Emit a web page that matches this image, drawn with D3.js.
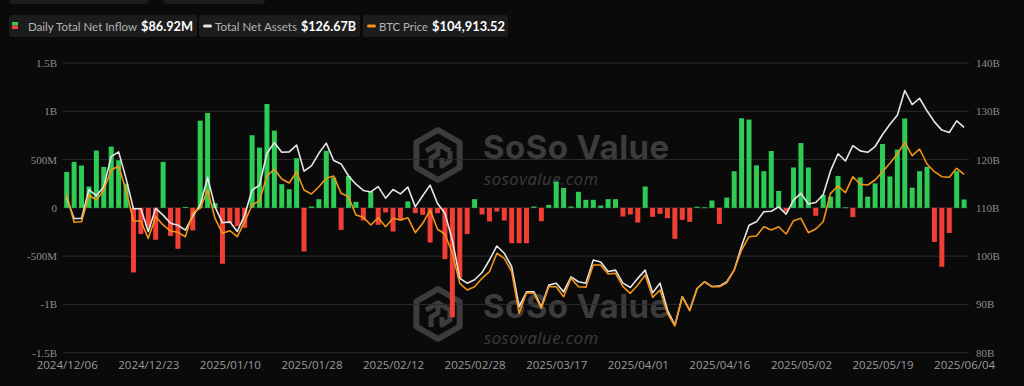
<!DOCTYPE html>
<html>
<head>
<meta charset="utf-8">
<script src="https://d3js.org/d3.v7.min.js"></script>
<style>
  body { margin: 0; background: #0a0a0a; }
  svg { display: block; }
  .legend-label { font-family: Lato, "Open Sans", sans-serif; font-size: 12px; fill: #b4b4b4; }
  .legend-value { font-family: Lato, "Open Sans", sans-serif; font-size: 14px; font-weight: bold; fill: #ffffff; }
  .yaxis text { font-family: "Liberation Serif", serif; font-size: 11px; fill: #8c8c8c; }
  .xaxis text { font-family: "Open Sans", "Noto Sans", sans-serif; font-size: 11.5px; fill: #9a9a9a; }
</style>
</head>
<body>
<script>
// trading days, 2024/12/06 .. 2025/06/04
const dates = [
  "2024/12/06","2024/12/09","2024/12/10","2024/12/11","2024/12/12","2024/12/13","2024/12/16","2024/12/17","2024/12/18","2024/12/19",
  "2024/12/20","2024/12/23","2024/12/24","2024/12/26","2024/12/27","2024/12/30","2024/12/31","2025/01/02","2025/01/03","2025/01/06",
  "2025/01/07","2025/01/08","2025/01/10","2025/01/13","2025/01/14","2025/01/15","2025/01/16","2025/01/17","2025/01/21","2025/01/22",
  "2025/01/23","2025/01/24","2025/01/27","2025/01/28","2025/01/29","2025/01/30","2025/01/31","2025/02/03","2025/02/04","2025/02/05",
  "2025/02/06","2025/02/07","2025/02/10","2025/02/11","2025/02/12","2025/02/13","2025/02/14","2025/02/18","2025/02/19","2025/02/20",
  "2025/02/21","2025/02/24","2025/02/25","2025/02/26","2025/02/27","2025/02/28","2025/03/03","2025/03/04","2025/03/05","2025/03/06",
  "2025/03/07","2025/03/10","2025/03/11","2025/03/12","2025/03/13","2025/03/14","2025/03/17","2025/03/18","2025/03/19","2025/03/20",
  "2025/03/21","2025/03/24","2025/03/25","2025/03/26","2025/03/27","2025/03/28","2025/03/31","2025/04/01","2025/04/02","2025/04/03",
  "2025/04/04","2025/04/07","2025/04/08","2025/04/09","2025/04/10","2025/04/11","2025/04/14","2025/04/15","2025/04/16","2025/04/17",
  "2025/04/21","2025/04/22","2025/04/23","2025/04/24","2025/04/25","2025/04/28","2025/04/29","2025/04/30","2025/05/01","2025/05/02",
  "2025/05/05","2025/05/06","2025/05/07","2025/05/08","2025/05/09","2025/05/12","2025/05/13","2025/05/14","2025/05/15","2025/05/16",
  "2025/05/19","2025/05/20","2025/05/21","2025/05/22","2025/05/23","2025/05/27","2025/05/28","2025/05/29","2025/05/30","2025/06/02",
  "2025/06/03","2025/06/04"
];

// daily total net inflow, $M
const inflow = [
  372, 476, 438, 221, 593, 424, 634, 493, 250, -669,
  -272, -200, -331, 476, -290, -424, 10, -234, 903, 983,
  48, -579, -160, -190, -207, 752, 624, 1076, 800, 245,
  193, 514, -452, 14, 90, 590, 314, -228, 331, 62,
  -131, 169, -176, -48, -245, -131, 66, -55, -72, -359,
  -55, -531, -1134, -728, -272, 90, -69, -141, -38, -131,
  -366, -366, -366, 14, -138, 31, 272, 207, 14, 166,
  83, 83, 24, 90, 90, -90, -69, -152, 221, -93,
  -62, -107, -321, -124, -145, 12, 5, 76, -166, 107,
  379, 928, 914, 440, 380, 589, 175, -38, 418, 671,
  418, -82, 134, 116, 329, 5, -96, 315, 116, 253,
  661, 325, 603, 925, 209, 380, 425, -353, -610, -260,
  380, 86.92
];

// total net assets, $B
const assets = [
  112.0, 107.8, 107.8, 113.8, 112.5, 114.4, 120.6, 121.6, 116.1, 109.8,
  109.8, 105.1, 109.9, 108.5, 106.8, 106.4, 105.4, 108.3, 110.6, 116.3,
  110.2, 106.9, 107.1, 105.1, 108.5, 113.7, 114.7, 121.3, 123.5, 121.5,
  121.6, 123.0, 117.6, 118.7, 121.3, 123.4, 119.8, 119.1, 116.6, 114.9,
  113.6, 113.3, 114.4, 112.0, 113.8, 112.9, 114.3, 110.2, 112.5, 114.7,
  110.9, 108.9, 103.3, 95.4, 94.4, 95.1, 96.6, 99.2, 102.1, 100.6,
  97.8, 89.5, 92.6, 92.6, 89.5, 94.0, 94.4, 92.6, 95.7, 94.7,
  94.4, 99.2, 98.8, 96.8, 97.1, 94.4, 93.5, 95.4, 97.1, 92.4,
  94.4, 88.8, 85.7, 91.6, 88.8, 93.3, 94.7, 93.7, 93.8, 94.7,
  97.1, 102.1, 106.4, 107.1, 109.2, 109.3, 110.2, 108.7, 111.6, 113.0,
  110.8, 111.1, 112.7, 117.7, 121.2, 119.7, 122.9, 121.8, 121.5, 122.7,
  125.2, 127.3, 129.2, 134.3, 131.4, 132.7, 130.1, 127.8, 126.1, 125.6,
  128.0, 126.67
];

// BTC price, $
const btc = [
  100660, 95010, 95130, 100660, 99620, 101700, 105840, 106670, 101700, 95270,
  95270, 91690, 96170, 94450, 93200, 92930, 92020, 96990, 97900, 101700,
  95830, 92730, 93270, 92020, 95130, 98590, 99480, 104590, 105980, 103970,
  103140, 105420, 101700, 100870, 102380, 104120, 104590, 101010, 100310, 96520,
  96040, 94450, 95960, 94090, 95830, 95480, 95960, 92850, 94800, 97550,
  93560, 92580, 88590, 82370, 80990, 81670, 83410, 84780, 88590, 87550,
  84780, 76160, 80430, 80300, 77200, 81670, 81670, 79600, 83410, 81670,
  81540, 86160, 86160, 84300, 84440, 81670, 80300, 82020, 84090, 79470,
  80990, 76160, 73530, 79600, 76700, 81340, 82700, 81670, 81670, 82500,
  85130, 89270, 92020, 92170, 94090, 93410, 94090, 92580, 95340, 95830,
  92850, 93620, 95130, 101010, 102520, 101140, 104450, 102880, 102730, 103770,
  105490, 107220, 109150, 111570, 108800, 110190, 107080, 105490, 104450, 104330,
  106190, 104913.52
];

const leftTicks = [-1500, -1000, -500, 0, 500, 1000, 1500];
const rightTicks = [80, 90, 100, 110, 120, 130, 140];
const xTickDates = ["2024/12/06","2024/12/23","2025/01/10","2025/01/28","2025/02/12","2025/02/28",
                    "2025/03/17","2025/04/01","2025/04/16","2025/05/02","2025/05/19","2025/06/04"];

const W = 1024, H = 386;
const plotL = 63, plotR = 969, plotT = 63, plotB = 352.7;

const svg = d3.select("body").append("svg").attr("width", W).attr("height", H);
svg.append("rect").attr("width", W).attr("height", H).attr("fill", "#0a0a0a");

const x = d3.scalePoint().domain(dates).range([66.7, 964.1]);
const yL = d3.scaleLinear().domain([-1500, 1500]).range([plotB, plotT]);
const yR = d3.scaleLinear().domain([80, 140]).range([plotB, plotT]);
const yBtc = d3.scaleLinear().domain([68000, 128000]).range([plotB, plotT]);

// watermarks
function watermark(g, cx, cy) {
  const c = "#3c3c3c";
  const r = 25;
  const hex = d3.range(6).map(k => {
    const a = Math.PI / 3 * k - Math.PI / 2;
    return [cx + r * Math.cos(a), cy + r * Math.sin(a)];
  });
  g.append("path").attr("d", "M" + hex.join("L") + "Z")
    .attr("fill", "none").attr("stroke", c).attr("stroke-width", 6).attr("stroke-linejoin", "round");
  // inner cube / S shape
  g.append("path")
    .attr("d", `M${cx-12},${cy-4} L${cx},${cy-11} L${cx+12},${cy-4} M${cx},${cy-11} L${cx},${cy-1} L${cx-7},${cy+3} L${cx-7},${cy+13}
                M${cx+12},${cy-4} L${cx+12},${cy+6} L${cx+4},${cy+11} L${cx+4},${cy+3}`)
    .attr("fill", "none").attr("stroke", c).attr("stroke-width", 5).attr("stroke-linejoin", "round");
  g.append("text").attr("x", cx + 45).attr("y", cy + 4)
    .attr("font-family", "Inter, Roboto, sans-serif").attr("font-weight", 700).attr("font-size", 33)
    .attr("letter-spacing", 0.4).attr("fill", c).text("SoSo Value");
  g.append("text").attr("x", cx + 46).attr("y", cy + 29.5)
    .attr("font-family", "'Open Sans', sans-serif").attr("font-style", "italic").attr("font-size", 16.5)
    .attr("letter-spacing", 0.6).attr("fill", c).text("sosovalue.com");
}
const wm = svg.append("g");
watermark(wm, 438, 155);
watermark(wm, 438, 314);

// grid
svg.append("g").selectAll("line").data(leftTicks).join("line")
  .attr("x1", plotL).attr("x2", plotR)
  .attr("y1", d => yL(d)).attr("y2", d => yL(d))
  .attr("stroke", "#2c2c2c").attr("stroke-width", 1);

// axes
const fmtL = v => v === 0 ? "0" : (Math.abs(v) >= 1000 ? (v / 1000) + "B" : v + "M");
svg.append("g").attr("class", "yaxis").attr("transform", `translate(${plotL},0)`)
  .call(d3.axisLeft(yL).tickValues(leftTicks).tickFormat(fmtL).tickSize(0).tickPadding(6))
  .call(g => g.select(".domain").remove());
svg.append("g").attr("class", "yaxis").attr("transform", `translate(${plotR},0)`)
  .call(d3.axisRight(yR).tickValues(rightTicks).tickFormat(d => d + "B").tickSize(0).tickPadding(7))
  .call(g => g.select(".domain").remove());
svg.append("g").attr("class", "xaxis").attr("transform", `translate(0,${plotB})`)
  .call(d3.axisBottom(x).tickValues(xTickDates).tickSize(0).tickPadding(8))
  .call(g => g.select(".domain").remove());

// bars
const bw = 5;
svg.append("g").selectAll("rect").data(inflow).join("rect")
  .attr("x", (d, i) => x(dates[i]) - bw / 2)
  .attr("width", bw)
  .attr("y", d => Math.min(yL(d), yL(0)))
  .attr("height", d => Math.max(0.8, Math.abs(yL(d) - yL(0))))
  .attr("fill", d => d >= 0 ? "#2ecc55" : "#f23f36");

// lines
const lineA = d3.line().x((d, i) => x(dates[i])).y(d => yR(d));
const lineB = d3.line().x((d, i) => x(dates[i])).y(d => yBtc(d));
svg.append("path").datum(assets).attr("d", lineA)
  .attr("fill", "none").attr("stroke", "#e6e6e6").attr("stroke-width", 1.6).attr("stroke-linejoin", "round");
svg.append("path").datum(btc).attr("d", lineB)
  .attr("fill", "none").attr("stroke", "#f29418").attr("stroke-width", 1.6).attr("stroke-linejoin", "round");

// top partial boxes
svg.append("rect").attr("x", 9).attr("y", -6).attr("width", 140).attr("height", 10).attr("rx", 4).attr("fill", "#1c1c1c");
svg.append("rect").attr("x", 163).attr("y", -6).attr("width", 102).attr("height", 10).attr("rx", 4).attr("fill", "#1c1c1c");

// legend
const last = dates.length - 1;
const fmtM = v => "$" + v.toFixed(2) + "M";
const fmtB = v => "$" + v.toFixed(2) + "B";
const fmtP = v => "$" + d3.format(",.2f")(v);
const legendItems = [
  { x: 9, w: 188, icon: "bar", lx: 28, lw: 109, label: "Daily Total Net Inflow", vx: 141, vw: 52, value: fmtM(inflow[last]) },
  { x: 199, w: 161, icon: "#e6e6e6", lx: 215, lw: 82, label: "Total Net Assets", vx: 301, vw: 55, value: fmtB(assets[last]) },
  { x: 363, w: 145, icon: "#f29418", lx: 379, lw: 49, label: "BTC Price", vx: 432, vw: 73, value: fmtP(btc[last]) }
];
const lg = svg.append("g");
legendItems.forEach(it => {
  lg.append("rect").attr("x", it.x).attr("y", 15).attr("width", it.w).attr("height", 22).attr("rx", 3).attr("fill", "#1c1c1c");
  if (it.icon === "bar") {
    lg.append("rect").attr("x", it.x + 3).attr("y", 22).attr("width", 6).attr("height", 3.5).attr("fill", "#2ecc55");
    lg.append("rect").attr("x", it.x + 3).attr("y", 25.5).attr("width", 6).attr("height", 3.5).attr("fill", "#f23f36");
  } else {
    lg.append("rect").attr("x", it.x + 4).attr("y", 24.5).attr("width", 9).attr("height", 3).attr("rx", 1.5).attr("fill", it.icon);
  }
  lg.append("text").attr("class", "legend-label").attr("x", it.lx).attr("y", 31)
    .attr("textLength", it.lw).attr("lengthAdjust", "spacingAndGlyphs").text(it.label);
  lg.append("text").attr("class", "legend-value").attr("x", it.vx).attr("y", 31)
    .attr("textLength", it.vw).attr("lengthAdjust", "spacingAndGlyphs").text(it.value);
});
</script>
</body>
</html>
